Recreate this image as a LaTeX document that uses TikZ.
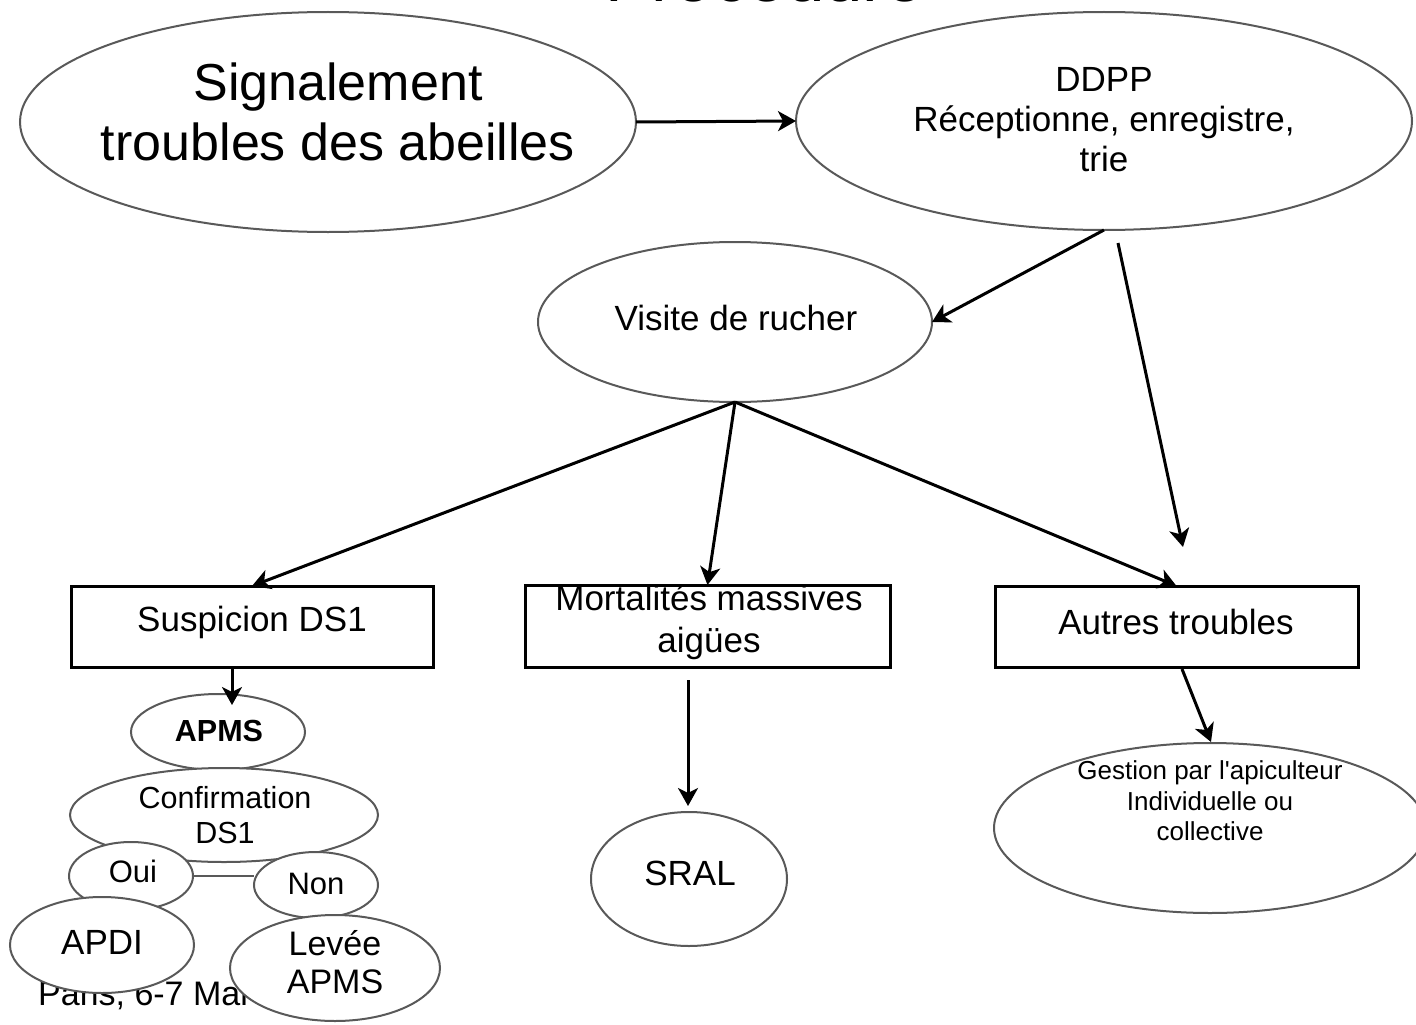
\documentclass[tikz,border=0pt]{standalone}
\usepackage{fontspec}
\setmainfont{Liberation Sans}
\usetikzlibrary{shapes.geometric,arrows.meta}
\newcommand{\fsz}[2]{\fontsize{#1}{#2}\selectfont}
\begin{document}
\begin{tikzpicture}[x=1pt,y=-1pt,
  ell/.style={ellipse,draw=black!65,line width=2pt,fill=white,inner sep=0pt,outer sep=0pt},
  box/.style={rectangle,draw=black,line width=3pt,inner sep=0pt,outer sep=0pt},
  txt/.style={align=center,inner sep=0pt,text=black},
  arr/.style={line width=3pt,-{Stealth[length=18pt,width=20pt,inset=5pt]}},
  lnk/.style={line width=2pt,draw=black!65}]
\useasboundingbox (0,0) rectangle (1416,1025);
% clipped title
\node[txt,anchor=base,font=\fsz{69}{80}] (title) at (765,1.2) {Procédure};
% top row
\node[ell,minimum width=616pt,minimum height=220pt] (sig) at (328,122) {};
\node[txt,font=\fsz{52}{60}] (sigT) at (338,112) {Signalement\\troubles des abeilles};
\node[ell,minimum width=616pt,minimum height=218pt] (ddpp) at (1104,121) {};
\node[txt,font=\fsz{35}{40}] (ddppT) at (1104,120) {DDPP\\Réceptionne, enregistre,\\trie};
\node[ell,minimum width=394pt,minimum height=160pt] (visite) at (735,322) {};
\node[txt,font=\fsz{35}{40}] (visiteT) at (736,318) {Visite de rucher};
% boxes
\node[box,minimum width=362pt,minimum height=81pt] (susp) at (252,626.5) {};
\node[txt,font=\fsz{35}{40}] (suspT) at (252,622) {Suspicion DS1};
\node[box,minimum width=365pt,minimum height=82pt] (mort) at (707.5,626) {};
\node[txt,font=\fsz{35}{42}] (mortT) at (709,622) {Mortalités massives\\aigües};
\node[box,minimum width=363pt,minimum height=81pt] (autres) at (1176.5,626.5) {};
\node[txt,font=\fsz{35}{40}] (autresT) at (1176,622) {Autres troubles};
% footer text (partly hidden)
\node[txt,anchor=base west,font=\fsz{34}{40}] (paris) at (38,1005) {Paris, 6-7 Mai};
% left branch
\node[ell,minimum width=174pt,minimum height=76pt] (apms) at (218,732) {};
\node[txt,font=\fsz{30.5}{35}\bfseries] (apmsT) at (219,731) {APMS};
\node[ell,minimum width=308pt,minimum height=94pt] (conf) at (224,815) {};
\node[txt,font=\fsz{30.5}{35}] (confT) at (225,815) {Confirmation\\DS1};
\node[ell,minimum width=124pt,minimum height=68pt] (oui) at (131,876) {};
\node[txt,font=\fsz{31}{35}] (ouiT) at (133,871) {Oui};
\node[ell,minimum width=124pt,minimum height=66pt] (non) at (316,885) {};
\node[txt,font=\fsz{31}{35}] (nonT) at (316,884) {Non};
\node[ell,minimum width=184pt,minimum height=96pt] (apdi) at (102,945) {};
\node[txt,font=\fsz{35}{40}] (apdiT) at (102,942) {APDI};
\node[ell,minimum width=210pt,minimum height=106pt] (levee) at (335,968) {};
\node[txt,font=\fsz{34}{38}] (leveeT) at (335,962) {Levée\\APMS};
% middle & right branches
\node[ell,minimum width=196pt,minimum height=134pt] (sral) at (689,879) {};
\node[txt,font=\fsz{35}{40}] (sralT) at (690,873) {SRAL};
\node[ell,minimum width=432pt,minimum height=170pt] (gest) at (1210,828) {};
\node[txt,font=\fsz{26}{30.5}] (gestT) at (1210,801) {Gestion par l\textquotesingle apiculteur\\Individuelle ou\\collective};
% connectors
\coordinate (d3s) at (1118,243);
\coordinate (d3e) at (1183,547);
\coordinate (a7) at (232,705);
\coordinate (m1) at (688,680);
\coordinate (g1) at (1182,669);
\coordinate (g2) at (1211,742);
\draw[arr] (sig.east) -- (ddpp.west);
\draw[arr] (ddpp.south) -- (visite.east);
\draw[arr] (d3s) -- (d3e);
\draw[arr] (visite.south) -- (susp.north);
\draw[arr] (visite.south) -- (mort.north);
\draw[arr] (visite.south) -- (autres.north);
\draw[arr] (a7 |- susp.south) -- (a7);
\draw[arr,shorten >=6pt] (m1) -- (m1 |- sral.north);
\draw[arr] (g1) -- (g2);
\draw[lnk] (oui.east) -- (oui.east -| non.west);
\end{tikzpicture}
\end{document}
